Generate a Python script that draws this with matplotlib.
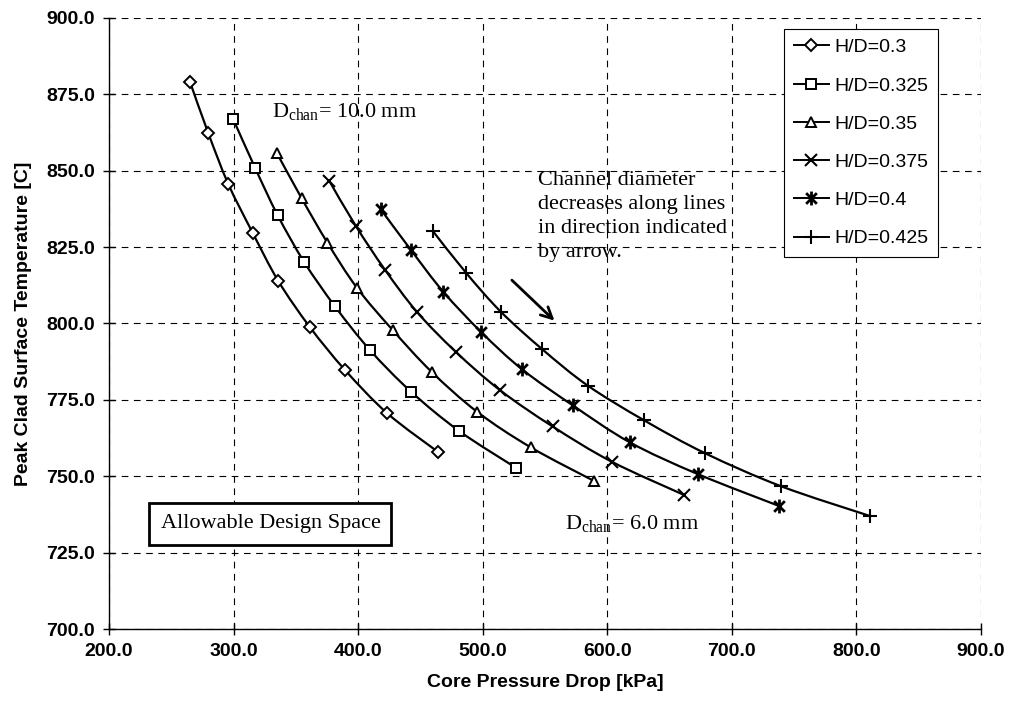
import numpy as np
import matplotlib
matplotlib.use('Agg')
import matplotlib.pyplot as plt
from matplotlib.path import Path
from matplotlib.patches import PathPatch
from matplotlib.lines import Line2D

# data: core pressure drop [kPa] and peak clad temperature [C]
labels = ['H/D=0.3', 'H/D=0.325', 'H/D=0.35', 'H/D=0.375', 'H/D=0.4', 'H/D=0.425']

dp_030 = [265.0, 279.7, 295.7, 315.3, 335.9, 361.3, 389.4, 423.4, 464.3]
t_030 = [879.1, 862.3, 845.7, 829.7, 813.9, 798.8, 784.8, 770.6, 757.9]

dp_0325 = [299.8, 317.2, 335.3, 356.7, 381.4, 409.5, 442.4, 481.1, 526.6]
t_0325 = [866.8, 851.0, 835.5, 820.1, 805.6, 791.3, 777.7, 764.8, 752.8]

dp_035 = [334.6, 354.6, 375.4, 399.0, 427.6, 458.9, 495.5, 538.4, 589.6]
t_035 = [855.9, 841.0, 826.4, 811.7, 797.9, 784.2, 771.1, 759.5, 748.4]

dp_0375 = [376.8, 398.0, 421.5, 447.4, 478.2, 513.8, 556.1, 603.4, 661.5]
t_0375 = [846.7, 832.0, 817.6, 803.7, 790.8, 778.2, 766.3, 754.8, 743.9]

dp_040 = [418.1, 442.3, 468.3, 499.0, 531.6, 572.3, 618.1, 672.7, 737.7]
t_040 = [837.4, 824.1, 810.4, 797.1, 785.0, 773.2, 761.1, 750.7, 740.3]

dp_0425 = [459.7, 486.6, 514.4, 547.7, 584.2, 629.6, 678.7, 739.7, 810.8]
t_0425 = [830.4, 816.6, 803.9, 791.6, 779.7, 768.3, 757.5, 746.7, 737.0]

series_x = [dp_030, dp_0325, dp_035, dp_0375, dp_040, dp_0425]
series_y = [t_030, t_0325, t_035, t_0375, t_040, t_0425]

x_ticks = [200, 300, 400, 500, 600, 700, 800, 900]
y_ticks = [700, 725, 750, 775, 800, 825, 850, 875, 900]

# excel-like star marker: an x with a vertical bar
star = Path([(-1, -1), (1, 1), (-1, 1), (1, -1), (0, -1.3), (0, 1.3)],
            [Path.MOVETO, Path.LINETO] * 3)
markers = ['D', 's', '^', 'x', star, '+']
msizes = [6, 6.5, 7, 8, 10, 10]
mwidths = [1.4, 1.4, 1.4, 1.5, 2.0, 1.5]


def smooth_path(x, y):
    # bezier through the points, like excel's smoothed line
    p = np.column_stack([x, y])
    verts = [p[0]]
    codes = [Path.MOVETO]
    for i in range(len(p) - 1):
        p0 = p[i - 1] if i > 0 else p[i]
        p3 = p[i + 2] if i + 2 < len(p) else p[i + 1]
        verts += [p[i] + (p[i + 1] - p0) / 6, p[i + 1] - (p3 - p[i]) / 6, p[i + 1]]
        codes += [Path.CURVE4] * 3
    return Path(verts, codes)


plt.rcParams['font.family'] = ['Liberation Sans', 'DejaVu Sans']
plt.rcParams['mathtext.fontset'] = 'custom'
plt.rcParams['mathtext.rm'] = 'Liberation Serif'

dpi = 100
fig, ax = plt.subplots(figsize=(1013 / dpi, 713 / dpi), dpi=dpi)
fig.subplots_adjust(left=0.1076, right=0.9684, bottom=0.1178, top=0.9748)

handles = []
for x, y, m, ms, mw, lab in zip(series_x, series_y, markers, msizes, mwidths, labels):
    ax.add_patch(PathPatch(smooth_path(x, y), fill=False, ec='black', lw=1.6, zorder=3))
    ax.plot(x, y, ls='none', marker=m, ms=ms, mfc='white', mec='black', mew=mw, zorder=4)
    handles.append(Line2D([], [], color='black', lw=1.4, marker=m, ms=ms,
                          mfc='white', mec='black', mew=mw, label=lab))

ax.set_xlim(200, 900)
ax.set_ylim(700, 900)
ax.set_xticks(x_ticks)
ax.set_yticks(y_ticks)
ax.set_xticklabels([f'{v:.1f}' for v in x_ticks], fontweight='bold', fontsize=14)
ax.set_yticklabels([f'{v:.1f}' for v in y_ticks], fontweight='bold', fontsize=14)
ax.tick_params(direction='inout', length=8, width=1, pad=6)
ax.grid(True, color='black', lw=0.8, ls=(0, (6, 5)))
ax.set_axisbelow(True)
for s in ['top', 'right']:
    ax.spines[s].set_visible(False)
ax.spines['left'].set_linewidth(1)
ax.spines['bottom'].set_linewidth(1)

ax.set_xlabel('Core Pressure Drop [kPa]', fontsize=14, fontweight='bold', labelpad=10)
ax.set_ylabel('Peak Clad Surface Temperature [C]', fontsize=14, fontweight='bold', labelpad=10)

leg = ax.legend(handles=handles, loc='upper right', bbox_to_anchor=(0.951, 0.982),
                fontsize=14, frameon=True, fancybox=False, edgecolor='black',
                framealpha=1, handlelength=1.8, handletextpad=0.3, labelspacing=1.06,
                borderpad=0.5, borderaxespad=0)
leg.get_frame().set_linewidth(0.8)

serif = 'Liberation Serif'
ax.text(330.8, 867.6, r'D$_{\rm chan}$= 10.0 mm', family=serif, fontsize=16, va='baseline')
ax.text(566, 732.7, r'D$_{\rm chan}$= 6.0 mm', family=serif, fontsize=16, va='baseline')
ax.text(544.3, 835.0, 'Channel diameter\ndecreases along lines\nin direction indicated\nby arrow.',
        family=serif, fontsize=16, va='center', ha='left', linespacing=1.35)
ax.text(329.6, 734.4, 'Allowable Design Space', family=serif, fontsize=16, ha='center',
        va='center', bbox=dict(boxstyle='square,pad=0.5', fc='white', ec='black', lw=2))
ax.annotate('', xy=(559.2, 800.3), xytext=(521.8, 814.8),
            arrowprops=dict(arrowstyle='->', color='black', lw=2, mutation_scale=20))

fig.savefig('out.png', dpi=dpi)
